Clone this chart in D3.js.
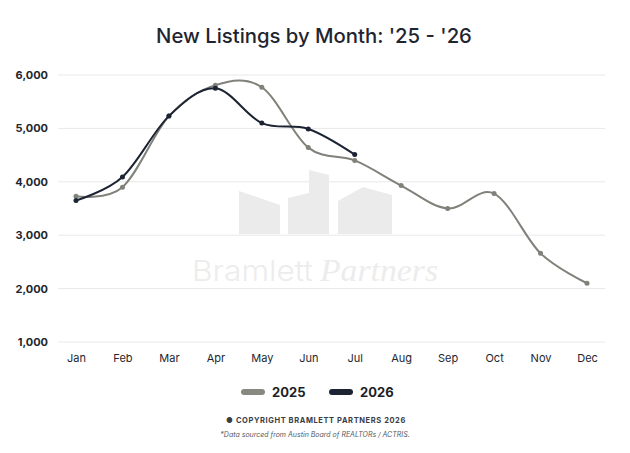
<!DOCTYPE html>
<html>
<head>
<meta charset="utf-8">
<script src="https://cdn.jsdelivr.net/npm/d3@7"></script>
<style>
  body { margin: 0; background: #fff; }
  text { font-family: Inter, "Noto Sans", sans-serif; }
</style>
</head>
<body>
<script>
const w = 630;
const h = 453;

// data
const months = ["Jan", "Feb", "Mar", "Apr", "May", "Jun", "Jul", "Aug", "Sep", "Oct", "Nov", "Dec"];
const listings2025 = [3730, 3900, 5230, 5810, 5770, 4640, 4400, 3930, 3500, 3780, 2660, 2100];
const listings2026 = [3650, 4090, 5230, 5750, 5100, 4990, 4510];
const yTicks = [1000, 2000, 3000, 4000, 5000, 6000];

const grey = "#80827a";
const navy = "#1c2433";

let svg = d3.select("body")
            .append("svg")
              .attr("width", w)
              .attr("height", h);

svg.append("rect").attr("width", w).attr("height", h).attr("fill", "#fff");

let x = d3.scalePoint()
    .domain(months)
    .range([76, 587]);

let y = d3.scaleLinear()
    .domain([1000, 6000])
    .range([342, 75]);

// title
svg.append("text")
    .attr("x", 314)
    .attr("y", 43)
    .attr("text-anchor", "middle")
    .attr("font-size", 20.3)
    .attr("font-weight", 500)
    .attr("fill", "#1f2530")
    .text("New Listings by Month: '25 - '26");

// gridlines
svg.append("g")
    .selectAll("line")
    .data(yTicks)
    .enter()
    .append("line")
      .attr("x1", 58)
      .attr("x2", 605)
      .attr("y1", d => y(d))
      .attr("y2", d => y(d))
      .attr("stroke", "#e8e8e8")
      .attr("stroke-width", 1);

// watermark
let wm = svg.append("g").attr("fill", "#ebebeb");
wm.append("path").attr("d", "M239,191 L280,205 L280,234 L239,234 Z");
wm.append("path").attr("d", "M288,198 L309,193 L309,170 L329,175 L329,234 L288,234 Z");
wm.append("path").attr("d", "M338,201 L363,187 L392,195 L392,234 L338,234 Z");
svg.append("text")
    .attr("x", 192)
    .attr("y", 281)
    .attr("font-size", 29)
    .attr("font-weight", 300)
    .attr("fill", "#ececec")
    .attr("textLength", 121)
    .attr("lengthAdjust", "spacingAndGlyphs")
    .text("Bramlett");
svg.append("text")
    .attr("x", 320)
    .attr("y", 281)
    .attr("font-size", 32)
    .style("font-family", "'Liberation Serif', 'DejaVu Serif', serif")
    .style("font-style", "italic")
    .attr("fill", "#ececec")
    .attr("textLength", 118)
    .attr("lengthAdjust", "spacingAndGlyphs")
    .text("Partners");

// y axis
let yAxis = svg.append("g")
    .attr("transform", "translate(48,0)")
    .call(d3.axisLeft(y).tickValues(yTicks).tickFormat(d3.format(",")).tickSize(0).tickPadding(0));
yAxis.select(".domain").remove();
yAxis.selectAll("text")
    .attr("font-size", 11)
    .attr("font-weight", 700)
    .attr("fill", "#22262e")
    .style("font-family", "Inter, sans-serif");

// x axis
let xAxis = svg.append("g")
    .attr("transform", "translate(0,352)")
    .call(d3.axisBottom(x).tickSize(0).tickPadding(0));
xAxis.select(".domain").remove();
xAxis.selectAll("text")
    .attr("font-size", 11)
    .attr("fill", "#22262e")
    .attr("dy", "0.9em")
    .style("font-family", "Inter, sans-serif");

const line = d3.line()
    .x((d, i) => x(months[i]))
    .y(d => y(d))
    .curve(d3.curveCardinal.tension(0));

function drawSeries(values, color) {
    svg.append("path")
        .datum(values)
        .attr("d", line)
        .attr("fill", "none")
        .attr("stroke", color)
        .attr("stroke-width", 2);
    svg.append("g")
        .selectAll("circle")
        .data(values)
        .enter()
        .append("circle")
          .attr("cx", (d, i) => x(months[i]))
          .attr("cy", d => y(d))
          .attr("r", 2.5)
          .attr("fill", color);
}

drawSeries(listings2025, grey);
drawSeries(listings2026, navy);

// legend
const legend = [{ label: "2025", color: "#868a7e", x: 241 }, { label: "2026", color: navy, x: 329 }];
let lg = svg.append("g")
    .selectAll("g")
    .data(legend)
    .enter()
    .append("g")
      .attr("transform", d => "translate(" + d.x + ",392)");
lg.append("rect")
    .attr("width", 24)
    .attr("height", 6)
    .attr("y", -3)
    .attr("rx", 3)
    .attr("fill", d => d.color);
lg.append("text")
    .attr("x", 31)
    .attr("y", 5)
    .attr("font-size", 13)
    .attr("font-weight", 700)
    .attr("fill", "#1c1f26")
    .text(d => d.label);

// footer
svg.append("text")
    .attr("x", 316)
    .attr("y", 423)
    .attr("text-anchor", "middle")
    .attr("font-size", 7.5)
    .attr("font-weight", 700)
    .attr("letter-spacing", 0.6)
    .attr("fill", "#3a3d44")
    .text("\u25CF COPYRIGHT BRAMLETT PARTNERS 2026");

svg.append("text")
    .attr("x", 315)
    .attr("y", 437)
    .attr("text-anchor", "middle")
    .attr("font-size", 7)
    .attr("font-style", "italic")
    .attr("fill", "#55585e")
    .text("*Data sourced from Austin Board of REALTORs / ACTRIS.");
</script>
</body>
</html>
